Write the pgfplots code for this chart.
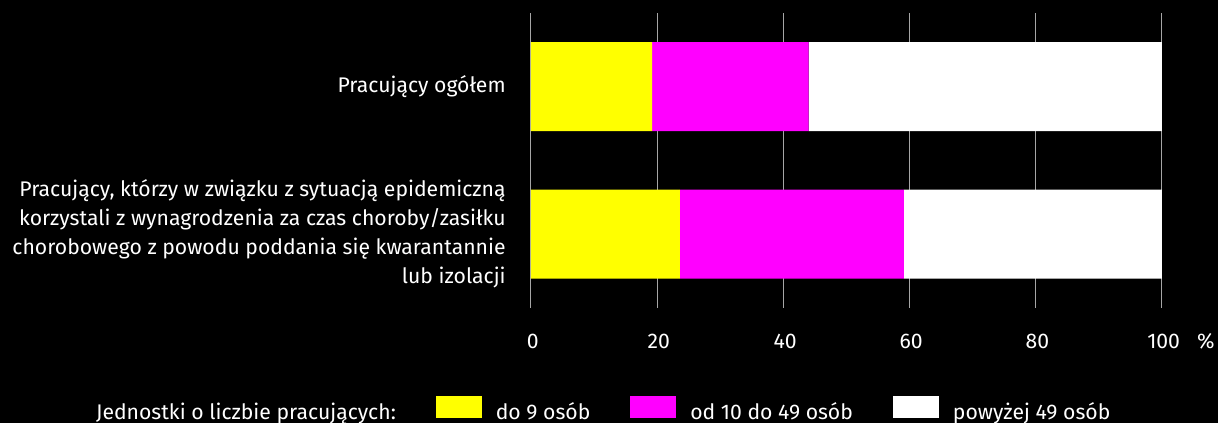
\documentclass[border=0pt]{standalone}
\usepackage{fontspec}
\setmainfont{Fira Sans}
\usepackage{pgfplots}
\pgfplotsset{compat=1.18}
\definecolor{gridgray}{HTML}{A6A6A6}
\definecolor{cyellow}{HTML}{FFFF00}
\definecolor{cmagenta}{HTML}{FF00FF}

\newcommand{\lblfont}{\fontsize{12.7}{17.4}\selectfont}

\begin{document}
\begin{tikzpicture}[x=0.6pt,y=0.6pt]
\fill[black] (0,0) rectangle (1218,423);
\useasboundingbox (0,0) rectangle (1218,423);
\clip (0,0) rectangle (1218,423);
\begin{axis}[
    at={(318.6pt,69pt)}, anchor=south west,
    scale only axis, width=378.6pt, height=177pt,
    xbar stacked, bar width=53.4pt,
    xmin=0, xmax=100, ymin=-0.5, ymax=1.5,
    xtick={0,20,40,60,80,100}, ytick={0,1},
    yticklabels={{Pracujący, którzy w związku z sytuacją epidemiczną\ \\korzystali z wynagrodzenia za czas choroby/zasiłku\\chorobowego z powodu poddania się kwarantannie\\lub izolacji},
                 {Pracujący ogółem}},
    xmajorgrids, grid style={gridgray, line width=0.6pt},
    axis line style={draw=none}, major tick length=0pt,
    /pgf/number format/assume math mode=true,
    ticklabel style={font=\lblfont, text=white, inner sep=0pt},
    xticklabel style={anchor=center, yshift=-19.8pt, xshift=1pt},
    yticklabel style={anchor=east, align=right, xshift=-15pt},
    xlabel={\%}, xlabel style={at={(axis description cs:1.0697,0)}, anchor=center, yshift=-19.8pt, font=\lblfont, text=white, inner sep=0pt},
    legend columns=-1,
    legend style={at={(axis description cs:-0.712,-0.342)}, anchor=west,
        draw=none, fill=none, inner sep=0pt, text=white, font=\lblfont,
        nodes={inner sep=0pt},
        /tikz/every odd column/.append style={column sep=8.4pt},
        /tikz/every even column/.append style={column sep=24pt}},
]
\addlegendimage{empty legend}
\addlegendentry{Jednostki o liczbie pracujących:}

\addplot[fill=cyellow, draw=none,
    legend image code/.code={\fill[cyellow] (0pt,-3pt) rectangle (27.6pt,10.2pt);}]
    coordinates {(19.2,1) (23.6,0)};
\addlegendentry{do 9 osób}

\addplot[fill=cmagenta, draw=none,
    legend image code/.code={\fill[cmagenta] (0pt,-3pt) rectangle (27.6pt,10.2pt);}]
    coordinates {(24.8,1) (35.5,0)};
\addlegendentry{od 10 do 49 osób}

\addplot[fill=white, draw=none,
    legend image code/.code={\fill[white] (0pt,-3pt) rectangle (27.6pt,10.2pt);}]
    coordinates {(56.0,1) (40.9,0)};
\addlegendentry{powyżej 49 osób}
\end{axis}
\end{tikzpicture}
\end{document}
